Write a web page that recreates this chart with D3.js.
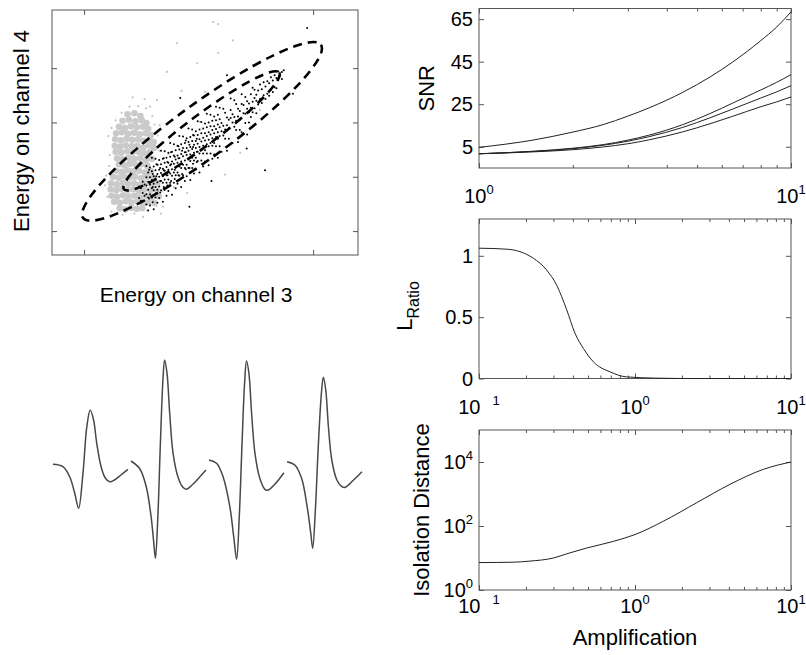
<!DOCTYPE html>
<html>
<head>
<meta charset="utf-8">
<script src="https://cdn.jsdelivr.net/npm/d3@7"></script>
<style>
  body { margin: 0; background: #fff; }
  text { font-family: "Liberation Sans", Arial, Helvetica, sans-serif; fill: #000; }
</style>
</head>
<body>
<svg id="fig" width="806" height="655"></svg>
<script>
// ---- SNR vs amplification, one series per channel ----
const snrAmp = [1, 1.5, 2, 2.5, 3, 3.5, 4.5, 5.5, 6.5, 8, 9, 10];
const snrCh1 = [4.7, 8.2, 11.9, 15.4, 19.4, 23.2, 30.6, 37.8, 44.8, 54.9, 61.3, 68.4];
const snrCh2 = [1.7, 2.9, 4.3, 6.0, 8.1, 10.4, 15.4, 20.6, 25.5, 31.7, 35.3, 38.9];
const snrCh3 = [1.7, 2.8, 4.1, 5.7, 7.6, 9.7, 14.1, 18.6, 22.7, 27.9, 30.8, 33.7];
const snrCh4 = [1.7, 2.6, 3.6, 4.9, 6.4, 8.2, 12.0, 15.8, 19.3, 23.8, 26.1, 28.4];
const snrTicks = [5, 25, 45, 65];

// ---- L-ratio vs amplification ----
const lrAmp = [0.1, 0.151, 0.183, 0.223, 0.271, 0.315, 0.365, 0.412, 0.467, 0.541, 0.692, 0.883, 1.35, 2, 5, 10];
const lrValues = [1.062, 1.054, 1.034, 0.98, 0.885, 0.76, 0.56, 0.37, 0.245, 0.136, 0.054, 0.013, 0.003, 0, 0, 0];
const lrTicks = [0, 0.5, 1];

// ---- isolation distance vs amplification ----
const isoAmp = [0.1, 0.166, 0.212, 0.30, 0.365, 0.49, 0.726, 1, 1.52, 2.49, 4.06, 6.65, 10];
const isoValues = [7.2, 7.4, 8, 10, 13.5, 20.5, 33, 54, 141, 537, 2000, 5900, 10000];
const isoTicks = [1, 100, 10000];

// ---- mean spike waveforms, [sample, amplitude] ----
const spikeCh1 = [[0,-2.3],[4.1,-4.7],[6.9,-14.7],[9.0,-31.3],[10.6,-46.3],[12.4,-11.3],[14.0,35.3],[15.4,52],[16.8,42],[18.1,18.7],[19.9,-4.7],[21.7,-16.3],[23.4,-19.7],[25.4,-18],[28.1,-13],[31,-7.3]];
const spikeCh2 = [[0,1],[3.5,-6.3],[6.3,-24.7],[8.3,-54.7],[9.3,-78],[10.1,-96.3],[11.1,-54.7],[12.1,15.3],[13.2,82],[13.9,102],[14.9,88.7],[16.0,48.7],[17.4,8.7],[19.4,-14.7],[21.3,-24.7],[22.9,-27.3],[25.7,-22],[28.5,-14.7],[31,-8]];
const spikeCh3 = [[0,2],[3.1,-1.3],[5.8,-14.7],[8.6,-44.7],[10.2,-74.7],[11.4,-97.3],[12.5,-54.7],[13.6,15.3],[14.7,78.7],[15.5,101],[16.5,88.7],[17.6,48.7],[19.0,8.7],[21.0,-16.3],[23.1,-27.3],[24.5,-28],[27.3,-22],[31,-10.7]];
const spikeCh4 = [[0,0.3],[3.2,-3],[6.0,-16.3],[8.3,-44.7],[9.8,-71.3],[10.6,-86.3],[11.7,-48],[12.9,15.3],[14.2,68.7],[15.0,84.7],[16.0,72],[17.1,35.3],[18.5,2],[20.6,-18],[22.7,-24.7],[24.1,-25.3],[27.5,-18],[31,-9.7]];
const channels = [1, 2, 3, 4];

// ---- feature space: energy ch3 vs energy ch4 ----
const scatXTicks = [0, 50];
const scatYTicks = [0, 10, 20, 30];
// dense noise cluster (grey blob)
const noiseCore = [
 [9.5,21.5],[11.0,21.7],[12.3,21.2],
 [8.4,20.3],[9.8,20.5],[11.2,20.2],[12.6,20.4],[13.6,19.9],
 [7.6,19.2],[8.9,19.0],[10.2,19.3],[11.5,19.1],[12.8,19.2],[14.0,18.8],
 [7.0,18.0],[8.3,18.2],[9.6,17.9],[10.9,18.1],[12.1,17.8],[13.4,18.0],[14.6,17.7],
 [6.8,16.9],[8.0,16.7],[9.3,17.0],[10.5,16.8],[11.8,16.9],[13.0,16.6],[14.3,16.9],[15.2,16.4],
 [6.7,15.7],[7.9,15.5],[9.1,15.8],[10.4,15.6],[11.6,15.7],[12.9,15.4],[14.1,15.8],[15.3,15.3],
 [6.9,14.6],[8.1,14.4],[9.4,14.7],[10.6,14.5],[11.9,14.6],[13.1,14.3],[14.4,14.6],
 [7.2,13.4],[8.4,13.2],[9.7,13.5],[10.9,13.3],[12.2,13.4],[13.5,13.1],[14.8,13.3],
 [7.6,12.3],[8.8,12.1],[10.0,12.4],[11.3,12.2],[12.5,12.3],[13.8,12.0],
 [7.0,11.1],[8.2,10.9],[9.5,11.2],[10.7,11.0],[12.0,11.1],[13.3,10.8],[14.6,11.0],
 [6.3,10.0],[7.5,9.8],[8.7,10.1],[10.0,9.9],[11.2,10.0],[12.5,9.7],[13.8,10.0],[15.1,9.8],
 [5.9,8.8],[7.1,8.6],[8.4,8.9],[9.6,8.7],[10.9,8.8],[12.1,8.5],[13.4,8.8],[14.7,8.6],[16.0,8.9],
 [5.8,7.7],[7.0,7.5],[8.2,7.8],[9.5,7.6],[10.7,7.7],[12.0,7.4],[13.2,7.7],[14.5,7.5],[15.8,7.6],
 [6.0,6.5],[7.2,6.3],[8.5,6.6],[9.7,6.4],[11.0,6.5],[12.2,6.2],[13.5,6.5],[14.8,6.3],[16.3,6.4],
 [6.6,5.4],[7.8,5.2],[9.1,5.5],[10.3,5.3],[11.6,5.4],[12.8,5.1],[14.0,5.3],[15.3,5.2],
 [7.8,4.2],[9.0,4.0],[10.3,4.3],[11.5,4.1],[12.7,4.2]
];
// scattered noise events around and away from the blob
const noiseSparse = [
 [28.2,38.5],[29.3,38.1],[20.3,34.6],[18.1,29.3],[24.7,30.9],[34.1,14.4],[22.5,7.0],[36.9,30.6],
 [15.9,24.1],[29.3,32.8],[14.4,22.9],[38.4,22.3],[26.4,25.6],[17.2,4.5],[16.5,19.5],[18.4,14.2],
 [25.3,20.1],[5.3,17.5],[5.6,14.0],[4.8,10.2],[5.1,6.3],[6.0,3.6],[8.4,3.0],[11.0,3.2],[13.8,3.8],
 [15.8,4.6],[17.0,7.3],[17.1,10.1],[16.2,12.2],[16.4,14.8],[16.1,17.6],[15.4,19.6],[14.9,21.2],
 [13.5,22.6],[11.8,23.0],[9.9,22.9],[8.2,21.8],[6.9,20.4],[6.0,19.0],[5.5,12.0],[4.6,8.4],
 [12.9,2.6],[16.8,3.2],[13.2,24.3],[10.6,24.6],[19.6,8.1],[21.3,25.8],[32.5,35.1],[30.8,10.4]
];
// unit cluster (black)
const unitPts = [
 [12.0,6.1],[12.0,8.2],[12.4,7.9],[12.4,5.6],[12.8,7.0],[12.8,9.1],[13.2,6.5],[13.2,8.6],
 [13.6,4.9],[13.6,6.8],[13.6,8.4],[13.6,9.9],[13.6,12.0],
 [14.0,3.8],[14.0,7.6],[14.0,9.1],[14.0,10.8],[14.0,6.2],
 [14.2,6.0],[14.2,9.1],[14.2,11.3],
 [14.4,6.8],[14.4,8.6],[14.4,11.7],[14.4,4.7],[14.4,9.9],
 [14.8,11.0],[14.8,7.9],[14.8,6.2],[14.8,9.4],[14.8,13.5],
 [15.0,8.1],[15.0,10.5],[15.0,5.3],
 [15.2,8.7],[15.2,10.1],[15.2,4.0],[15.2,11.9],[15.2,7.5],
 [15.6,6.2],[15.6,8.1],[15.6,9.7],[15.6,11.2],[15.6,13.3],
 [15.8,7.0],[15.8,10.1],[15.8,12.3],
 [16.0,5.2],[16.0,9.0],[16.0,10.5],[16.0,12.2],[16.0,7.6],
 [16.4,8.2],[16.4,10.0],[16.4,13.1],[16.4,6.1],[16.4,11.3],
 [16.6,9.2],[16.6,11.6],[16.6,7.1],
 [16.8,12.3],[16.8,9.2],[16.8,7.5],[16.8,10.7],[16.8,14.8],
 [17.2,10.1],[17.2,11.5],[17.2,5.4],[17.2,13.3],[17.2,8.9],
 [17.4,8.1],[17.4,11.2],[17.4,13.4],
 [17.6,7.6],[17.6,9.5],[17.6,11.1],[17.6,12.6],[17.6,14.7],
 [18.0,6.5],[18.0,10.3],[18.0,11.8],[18.0,13.5],[18.0,8.9],
 [18.2,10.3],[18.2,12.7],[18.2,8.4],
 [18.4,9.5],[18.4,11.3],[18.4,14.4],[18.4,7.4],[18.4,12.6],
 [18.8,13.7],[18.8,10.6],[18.8,8.9],[18.8,12.1],[18.8,16.2],
 [19.0,9.2],[19.0,12.3],[19.0,14.5],
 [19.2,11.4],[19.2,12.8],[19.2,6.7],[19.2,14.6],[19.2,10.2],
 [19.6,8.9],[19.6,10.8],[19.6,12.4],[19.6,13.9],[19.6,16.0],
 [19.8,11.3],[19.8,13.7],[19.8,9.6],
 [20.0,7.9],[20.0,11.7],[20.0,13.2],[20.0,14.9],[20.0,10.3],
 [20.4,10.8],[20.4,12.6],[20.4,15.7],[20.4,8.7],[20.4,13.9],
 [20.6,10.3],[20.6,13.4],[20.6,15.6],
 [20.8,15.0],[20.8,11.9],[20.8,10.2],[20.8,13.4],[20.8,17.5],
 [21.2,12.8],[21.2,14.2],[21.2,8.1],[21.2,16.0],[21.2,11.6],
 [21.4,12.4],[21.4,14.8],[21.4,10.5],
 [21.6,10.3],[21.6,12.2],[21.6,13.8],[21.6,15.3],[21.6,17.4],
 [22.0,9.2],[22.0,13.0],[22.0,14.5],[22.0,16.2],[22.0,11.6],
 [22.2,11.4],[22.2,14.5],[22.2,16.7],
 [22.4,12.2],[22.4,14.0],[22.4,17.1],[22.4,10.1],[22.4,15.3],
 [22.8,16.4],[22.8,13.3],[22.8,11.6],[22.8,14.8],[22.8,18.9],
 [23.0,13.5],[23.0,15.9],[23.0,11.6],
 [23.2,14.1],[23.2,15.5],[23.2,9.4],[23.2,17.3],[23.2,12.9],
 [23.6,11.6],[23.6,13.5],[23.6,15.1],[23.6,16.6],[23.6,18.7],
 [23.8,12.4],[23.8,15.5],[23.8,17.7],
 [24.0,10.6],[24.0,14.4],[24.0,15.9],[24.0,17.6],[24.0,13.0],
 [24.4,13.5],[24.4,15.3],[24.4,18.4],[24.4,11.4],[24.4,16.6],
 [24.6,14.6],[24.6,17.0],[24.6,12.7],
 [24.8,17.7],[24.8,14.6],[24.8,12.9],[24.8,16.1],[24.8,20.2],
 [25.2,15.5],[25.2,16.9],[25.2,10.8],[25.2,18.7],[25.2,14.3],
 [25.6,13.0],[25.6,14.9],[25.6,16.5],[25.6,18.0],[25.6,20.1],
 [26.0,11.9],[26.0,15.7],[26.0,17.2],[26.0,18.9],[26.0,14.3],
 [26.4,14.9],[26.4,16.7],[26.4,19.8],[26.4,12.8],[26.4,18.0],
 [26.8,19.1],[26.8,16.0],[26.8,14.3],[26.8,17.5],[26.8,21.6],
 [27.2,16.8],[27.2,18.2],[27.2,12.1],[27.2,20.0],[27.2,15.6],
 [27.6,14.3],[27.6,16.2],[27.6,17.8],[27.6,19.3],[27.6,21.4],
 [28.0,13.3],[28.0,17.1],[28.0,18.6],[28.0,20.3],[28.0,15.7],
 [28.4,16.2],[28.4,18.0],[28.4,21.1],[28.4,14.1],[28.4,19.3],
 [28.8,20.4],[28.8,17.3],[28.8,15.6],[28.8,18.8],[28.8,22.9],
 [29.2,18.2],[29.2,19.6],[29.2,13.5],[29.2,21.4],[29.2,17.0],
 [29.6,15.6],[29.6,17.5],[29.6,19.1],[29.6,20.6],[29.6,22.7],
 [30.0,14.6],[30.0,18.4],[30.0,19.9],[30.4,17.6],[30.4,19.4],[30.4,22.5],
 [30.8,21.8],[30.8,18.7],[30.8,17.0],[31.2,19.5],[31.2,20.9],[31.2,14.8],
 [31.6,17.0],[31.6,18.9],[31.6,20.5],[32.0,20.8],[32.0,22.3],[32.0,24.4],
 [32.4,16.2],[32.4,20.0],[32.4,21.5],[32.8,19.2],[32.8,21.0],[32.8,24.1],
 [33.2,23.4],[33.2,20.3],[33.2,18.6],[33.6,21.1],[33.6,22.5],[33.6,16.4],
 [34.0,18.6],[34.0,20.5],[34.0,22.1],[34.4,18.2],[34.4,23.4],[34.4,25.2],
 [34.8,17.9],[34.8,21.7],[34.8,23.2],[35.2,24.7],[35.2,21.6],[35.2,19.9],
 [35.6,22.5],[35.6,23.9],[35.6,17.8],[36.0,20.0],[36.0,21.9],[36.0,23.5],
 [36.4,25.2],[36.4,22.7],[36.4,21.0],[36.8,21.9],[36.8,26.4],[36.8,23.8],
 [37.2,22.6],[37.2,24.5],[37.2,26.0],[37.6,25.1],[37.6,21.7],[37.6,24.0],
 [38.0,23.3],[38.0,25.9],[38.4,24.3],[38.4,27.0],[38.8,26.1],[38.8,23.6],
 [39.2,25.0],[39.2,27.4],[39.6,26.6],[39.6,24.3],[40.0,25.3],[40.0,27.6],
 [40.4,27.2],[40.4,24.9],[40.8,26.0],[40.8,28.3],[41.2,27.7],[41.2,25.6],
 [41.6,26.5],[41.6,28.7],[42.0,28.2],[42.0,26.3],[42.4,27.8],[42.4,29.4],
 [42.8,28.6],[43.2,29.3],[43.2,28.0],[43.6,29.6],
 [48.7,37.4],[21.0,24.5],[31.2,28.7],[39.5,11.2],[27.8,9.2],[35.5,15.2],[23.0,4.5],[45.6,25.3]
];
// cluster boundary ellipses: major-axis end points + minor/major ratio
const ellipses = [
  { tipA: [-0.2, 2.4], tipB: [51.7, 34.3], ratio: 0.184 },
  { tipA: [8.7, 7.7], tipB: [42.6, 29.2], ratio: 0.155 }
];

const svg = d3.select("#fig");
svg.append("rect").attr("width", 806).attr("height", 655).attr("fill", "#fff");

const axisColor = "#555";
const lineColor = "#222";

function styleAxis(g) {
  g.select(".domain").remove();
  g.selectAll(".tick line").attr("stroke", axisColor);
  g.selectAll(".tick text").remove();
}

// box with inward ticks on all four sides
function drawBox(x, y, xTicks, yTicks, minorX) {
  const [x0, x1] = x.range();
  const [y0, y1] = y.range();
  const g = svg.append("g");
  g.append("rect")
    .attr("x", x0).attr("y", y1)
    .attr("width", x1 - x0).attr("height", y0 - y1)
    .attr("fill", "none").attr("stroke", axisColor).attr("stroke-width", 1);
  const ax = [
    [d3.axisBottom(x), `translate(0,${y0})`, xTicks],
    [d3.axisTop(x), `translate(0,${y1})`, xTicks],
    [d3.axisLeft(y), `translate(${x0},0)`, yTicks],
    [d3.axisRight(y), `translate(${x1},0)`, yTicks]
  ];
  ax.forEach(([a, tr, tv]) => {
    g.append("g").attr("transform", tr)
      .call(a.tickValues(tv).tickSize(-5).tickSizeOuter(0))
      .call(styleAxis);
  });
  if (minorX) {
    [[d3.axisBottom(x), `translate(0,${y0})`], [d3.axisTop(x), `translate(0,${y1})`]].forEach(([a, tr]) => {
      g.append("g").attr("transform", tr)
        .call(a.tickValues(minorX).tickSize(-3).tickSizeOuter(0))
        .call(styleAxis);
    });
  }
  return g;
}

// "10" with a raised exponent
function powText(sel, exp, gap) {
  sel.append("tspan").text("10");
  sel.append("tspan").attr("dy", -9).attr("dx", gap || 0)
    .attr("font-size", 13).text(exp);
}

// ---------- scatter (feature space) ----------
const sx = d3.scaleLinear().domain([-7, 59.8]).range([52, 358]);
const sy = d3.scaleLinear().domain([-4.4, 40.7]).range([255, 10]);
drawBox(sx, sy, scatXTicks, scatYTicks);

svg.append("defs").append("clipPath").attr("id", "scatClip")
  .append("rect").attr("x", 52).attr("y", 10).attr("width", 306).attr("height", 245);
const scat = svg.append("g").attr("clip-path", "url(#scatClip)");

scat.append("g").selectAll("circle").data(noiseCore).join("circle")
  .attr("cx", d => sx(d[0])).attr("cy", d => sy(d[1]))
  .attr("r", 3.3).attr("fill", "#cacaca");
scat.append("g").selectAll("circle").data(noiseSparse).join("circle")
  .attr("cx", d => sx(d[0])).attr("cy", d => sy(d[1]))
  .attr("r", 1.1).attr("fill", "#c4c4c4");
scat.append("g").selectAll("circle").data(unitPts).join("circle")
  .attr("cx", d => sx(d[0])).attr("cy", d => sy(d[1]))
  .attr("r", 1.0).attr("fill", "#000");

ellipses.forEach(e => {
  const ax = sx(e.tipA[0]), ay = sy(e.tipA[1]);
  const bx = sx(e.tipB[0]), by = sy(e.tipB[1]);
  const cx = (ax + bx) / 2, cy = (ay + by) / 2;
  const a = Math.hypot(bx - ax, by - ay) / 2;
  const ang = Math.atan2(by - ay, bx - ax) * 180 / Math.PI;
  scat.append("ellipse")
    .attr("cx", cx).attr("cy", cy).attr("rx", a).attr("ry", a * e.ratio)
    .attr("transform", `rotate(${ang},${cx},${cy})`)
    .attr("fill", "none").attr("stroke", "#000")
    .attr("stroke-width", 2.6).attr("stroke-dasharray", "9,6");
});

svg.append("text").attr("transform", "translate(29,131) rotate(-90)")
  .attr("text-anchor", "middle").attr("font-size", 22).text("Energy on channel 4");
svg.append("text").attr("x", 196).attr("y", 302)
  .attr("text-anchor", "middle").attr("font-size", 21).text("Energy on channel 3");

// ---------- waveforms ----------
const wfBand = d3.scaleBand().domain(channels).range([53, 362]).paddingInner(0.04);
const wfT = d3.scaleLinear().domain([0, 31]).range([0, wfBand.bandwidth()]);
const wfY = d3.scaleLinear().domain([-110, 110]).range([572, 352]);
const spikes = [spikeCh1, spikeCh2, spikeCh3, spikeCh4];
spikes.forEach((s, i) => {
  const off = wfBand(channels[i]);
  svg.append("path").datum(s)
    .attr("fill", "none").attr("stroke", "#484848").attr("stroke-width", 1.5)
    .attr("d", d3.line()
      .x(d => off + wfT(d[0])).y(d => wfY(d[1]))
      .curve(d3.curveCatmullRom.alpha(0.5)));
});

// ---------- SNR panel ----------
const snrX = d3.scaleLog().domain([1, 10]).range([479, 791]);
const snrY = d3.scaleLinear().domain([-5, 70]).range([168, 8.5]);
drawBox(snrX, snrY, [1, 10], snrTicks, snrX.ticks().filter(v => v !== 1 && v !== 10));
[snrCh1, snrCh2, snrCh3, snrCh4].forEach(ser => {
  svg.append("path").datum(ser)
    .attr("fill", "none").attr("stroke", lineColor).attr("stroke-width", 1)
    .attr("d", d3.line().x((d, i) => snrX(snrAmp[i])).y(d => snrY(d)).curve(d3.curveMonotoneX));
});
svg.append("g").selectAll("text").data(snrTicks).join("text")
  .attr("x", 473).attr("y", d => snrY(d) + 7).attr("text-anchor", "end")
  .attr("font-size", 20).text(d => d);
svg.append("g").selectAll("text").data([1, 10]).join("text")
  .attr("x", d => snrX(d)).attr("y", 203).attr("text-anchor", "middle").attr("font-size", 20)
  .each(function(d) { powText(d3.select(this), d === 1 ? "0" : "1"); });
svg.append("text").attr("transform", `translate(434,${(snrY.range()[0] + snrY.range()[1]) / 2}) rotate(-90)`)
  .attr("text-anchor", "middle").attr("font-size", 22).text("SNR");

// ---------- L-ratio panel ----------
const ampX = d3.scaleLog().domain([0.1, 10]).range([479, 791]);
const ampMinor = ampX.ticks().filter(v => ![0.1, 1, 10].includes(v));
const ampLabels = [0.1, 1, 10];
const lrX = ampX.copy();
const lrY = d3.scaleLinear().domain([0, 1.3]).range([378.5, 219]);
drawBox(lrX, lrY, ampLabels, lrTicks, ampMinor);
svg.append("path").datum(lrValues)
  .attr("fill", "none").attr("stroke", lineColor).attr("stroke-width", 1)
  .attr("d", d3.line().x((d, i) => lrX(lrAmp[i])).y(d => lrY(d)).curve(d3.curveMonotoneX));
svg.append("g").selectAll("text").data(lrTicks).join("text")
  .attr("x", 473).attr("y", d => lrY(d) + 7).attr("text-anchor", "end")
  .attr("font-size", 20).text(d => d);

function ampTickLabels(yBase) {
  svg.append("g").selectAll("text").data(ampLabels).join("text")
    .attr("x", d => ampX(d)).attr("y", yBase).attr("text-anchor", "middle").attr("font-size", 20)
    .each(function(d) {
      if (d === 0.1) powText(d3.select(this), "1", 12);
      else powText(d3.select(this), d === 1 ? "0" : "1");
    });
}
ampTickLabels(414);
const lrLabel = svg.append("text").attr("transform", "translate(412,306) rotate(-90)")
  .attr("text-anchor", "middle").attr("font-size", 22);
lrLabel.append("tspan").text("L");
lrLabel.append("tspan").attr("dy", 7).attr("font-size", 16).text("Ratio");

// ---------- isolation distance panel ----------
const isoX = ampX.copy();
const isoY = d3.scaleLog().domain([1, 1e5]).range([590, 430]);
drawBox(isoX, isoY, ampLabels, isoTicks, ampMinor);
svg.append("path").datum(isoValues)
  .attr("fill", "none").attr("stroke", lineColor).attr("stroke-width", 1)
  .attr("d", d3.line().x((d, i) => isoX(isoAmp[i])).y(d => isoY(d)).curve(d3.curveMonotoneX));
svg.append("g").selectAll("text").data(isoTicks).join("text")
  .attr("x", 473).attr("y", d => isoY(d) + 7).attr("text-anchor", "end").attr("font-size", 20)
  .each(function(d) { powText(d3.select(this), String(Math.round(Math.log10(d)))); });
ampTickLabels(613);
svg.append("text").attr("transform", "translate(429,510) rotate(-90)")
  .attr("text-anchor", "middle").attr("font-size", 22).text("Isolation Distance");
svg.append("text").attr("x", 635).attr("y", 645)
  .attr("text-anchor", "middle").attr("font-size", 22).text("Amplification");
</script>
</body>
</html>
